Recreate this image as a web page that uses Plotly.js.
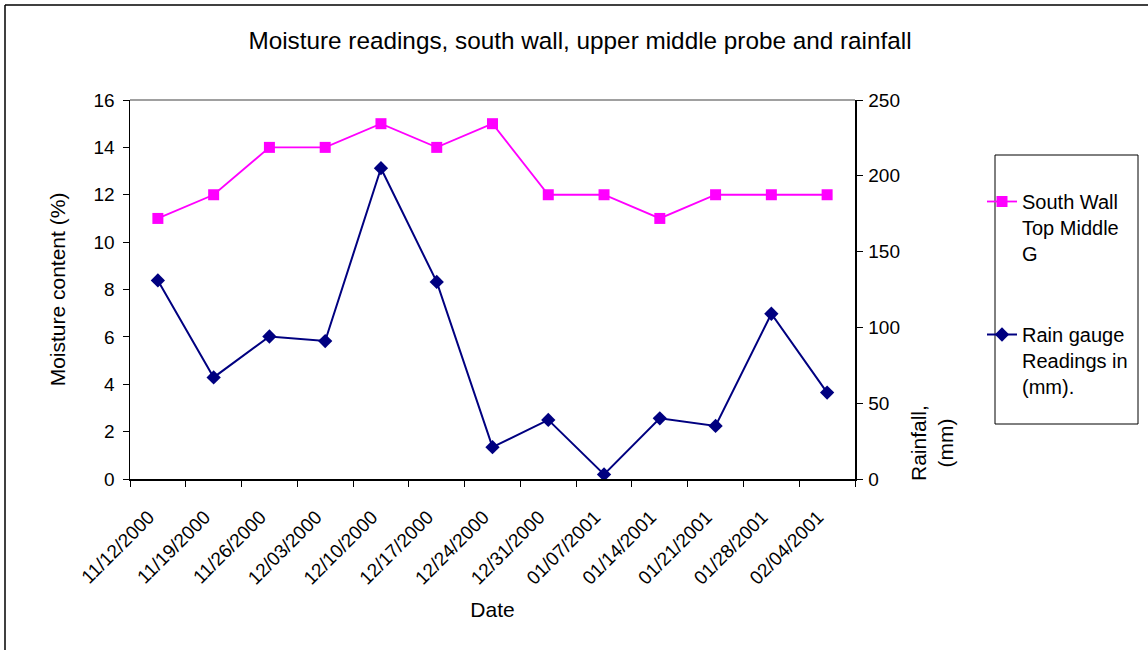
<!DOCTYPE html>
<html>
<head>
<meta charset="utf-8">
<script src="https://cdn.plot.ly/plotly-3.0.1.min.js"></script>
<style>
html,body{margin:0;padding:0;background:#fff;}
#chart{width:1148px;height:650px;}
</style>
</head>
<body>
<div id="chart"></div>
<script>
const dates = ["11/12/2000","11/19/2000","11/26/2000","12/03/2000","12/10/2000","12/17/2000","12/24/2000","12/31/2000","01/07/2001","01/14/2001","01/21/2001","01/28/2001","02/04/2001"];
const moisture = [11,12,14,14,15,14,15,12,12,11,12,12,12];
const rainfall = [131,67,94,91,205,130,21,39,3,40,35,109,57];

const FONT = "Liberation Sans, Arial, sans-serif";
// plot area in pixels
const L = 130, R = 855, T = 100, B = 479, W = 1148, H = 650;
const px = x => (x - L) / (R - L);
const py = y => (B - y) / (B - T);

const traces = [
  {
    x: dates, y: moisture, type: "scatter", mode: "lines+markers",
    name: "South Wall<br>Top Middle<br>G", legendgroup: "a",
    line: {color: "#FF00FF", width: 1.8},
    marker: {symbol: "square", size: 11, color: "#FF00FF"},
    yaxis: "y"
  },
  {
    x: dates, y: rainfall, type: "scatter", mode: "lines+markers",
    name: "Rain gauge<br>Readings in<br>(mm).", legendgroup: "b",
    line: {color: "#000080", width: 2},
    marker: {symbol: "diamond", size: 11, color: "#000080"},
    yaxis: "y2"
  }
];

const layout = {
  width: W, height: H,
  margin: {l: L, r: W - R, t: T, b: H - B},
  paper_bgcolor: "#fff", plot_bgcolor: "#fff",
  font: {family: FONT, size: 19, color: "#000"},
  showlegend: true,
  title: {text: "Moisture readings, south wall, upper middle probe and rainfall",
          font: {family: FONT, size: 24.3, color: "#000"},
          x: 580 / W, xanchor: "center", y: 1 - 40 / H, yanchor: "middle"},
  xaxis: {
    type: "category", tickangle: -45, tickson: "boundaries",
    ticks: "outside", ticklen: 6, tickcolor: "#000",
    showline: true, linecolor: "#000", linewidth: 1.5,
    showgrid: false, zeroline: false,
    tickfont: {family: FONT, size: 19},
    ticklabelstandoff: 18, ticklabelshift: -9,
    title: {text: "Date", font: {family: FONT, size: 21}, standoff: 14},
    range: [-0.5, 12.5]
  },
  yaxis: {
    range: [0, 16], dtick: 2, ticks: "outside", ticklen: 6, tickcolor: "#000",
    showline: true, linecolor: "#000", linewidth: 1.5,
    showgrid: false, zeroline: false,
    tickfont: {family: FONT, size: 19},
    ticklabelstandoff: 4,
    title: {text: "Moisture content (%)", font: {family: FONT, size: 21}, standoff: 22}
  },
  yaxis2: {
    overlaying: "y", side: "right", range: [0, 250], dtick: 50,
    ticks: "outside", ticklen: 6, tickcolor: "#000",
    showline: true, linecolor: "#000", linewidth: 1.5,
    showgrid: false, zeroline: false,
    tickfont: {family: FONT, size: 19},
    ticklabelstandoff: 2
  },
  legend: {
    x: px(982), y: py(182), xanchor: "left", yanchor: "top",
    bgcolor: "rgba(0,0,0,0)", borderwidth: 0,
    font: {family: FONT, size: 20},
    tracegroupgap: 52, traceorder: "grouped", valign: "top"
  },
  shapes: [
    {type: "line", xref: "paper", yref: "paper", x0: 0, x1: 1, y0: 1, y1: 1,
     line: {color: "#808080", width: 1.5}},
    {type: "rect", xref: "paper", yref: "paper", x0: px(995), x1: px(1138), y0: py(424), y1: py(155),
     line: {color: "#000", width: 1}},
    {type: "line", xref: "paper", yref: "paper", x0: px(5), x1: px(5), y0: py(5), y1: py(650),
     line: {color: "#000", width: 1.5}},
    {type: "line", xref: "paper", yref: "paper", x0: px(5), x1: px(1148), y0: py(5), y1: py(5),
     line: {color: "#000", width: 1.5}}
  ],
  annotations: [
    {text: "Rainfall,<br>(mm)", xref: "paper", yref: "paper", x: px(932), y: py(443),
     xanchor: "center", yanchor: "middle", textangle: -90, showarrow: false,
     font: {family: FONT, size: 21}}
  ]
};

Plotly.newPlot("chart", traces, layout, {displayModeBar: false, staticPlot: true});
</script>
</body>
</html>
